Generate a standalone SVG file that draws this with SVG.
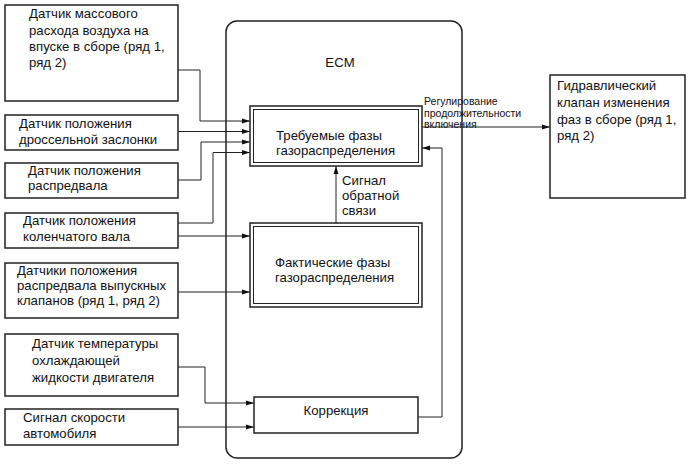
<svg xmlns="http://www.w3.org/2000/svg" width="689" height="464" viewBox="0 0 689 464">
<defs>
<marker id="ah" markerWidth="8" markerHeight="6" refX="8" refY="3" orient="auto" markerUnits="userSpaceOnUse">
<path d="M0,0.5 L8,3 L0,5.5 Z" fill="#111"/>
</marker>
<style>
text{font-family:"Liberation Sans",Arial,sans-serif;font-size:13.2px;fill:#111}
.box{fill:#fff;stroke:#222;stroke-width:1.5}
.inner{fill:none;stroke:#222;stroke-width:1}
.ln{fill:none;stroke:#222;stroke-width:1}
.arr{fill:none;stroke:#222;stroke-width:1;marker-end:url(#ah)}
.sm{font-size:10.5px}
.c{text-anchor:middle}
</style>
</defs>
<rect width="689" height="464" fill="#fff"/>
<g id="ecm">
<rect x="226" y="21" width="236" height="437" rx="11" ry="11" fill="none" stroke="#222" stroke-width="1.5"/>
<text x="340" y="67" class="c">ECM</text>
</g>
<g id="maf">
<rect class="box" x="5" y="5" width="173" height="96"/>
<text x="29" y="18">Датчик массового</text>
<text x="29" y="35">расхода воздуха на</text>
<text x="29" y="51">впуске в сборе (ряд 1,</text>
<text x="29" y="67">ряд 2)</text>
</g>
<g id="tps">
<rect class="box" x="5" y="115" width="173" height="35"/>
<text x="19" y="128">Датчик положения</text>
<text x="19" y="144">дроссельной заслонки</text>
</g>
<g id="cmp">
<rect class="box" x="5" y="163" width="173" height="35"/>
<text x="28" y="175">Датчик положения</text>
<text x="28" y="190">распредвала</text>
</g>
<g id="ckp">
<rect class="box" x="5" y="213" width="173" height="35"/>
<text x="23" y="225">Датчик положения</text>
<text x="23" y="241">коленчатого вала</text>
</g>
<g id="excmp">
<rect class="box" x="5" y="263" width="173" height="55"/>
<text x="17" y="275">Датчики положения</text>
<text x="17" y="290">распредвала выпускных</text>
<text x="17" y="305">клапанов (ряд 1, ряд 2)</text>
</g>
<g id="ect">
<rect class="box" x="5" y="334" width="173" height="62"/>
<text x="32" y="348">Датчик температуры</text>
<text x="32" y="365">охлаждающей</text>
<text x="32" y="382">жидкости двигателя</text>
</g>
<g id="vss">
<rect class="box" x="5" y="409" width="173" height="36"/>
<text x="23" y="422">Сигнал скорости</text>
<text x="23" y="438">автомобиля</text>
</g>
<g id="required">
<rect class="box" x="250" y="106" width="172" height="60"/>
<rect class="inner" x="253.5" y="109.5" width="165" height="53"/>
<text x="276" y="140">Требуемые фазы</text>
<text x="276" y="155">газораспределения</text>
</g>
<g id="actual">
<rect class="box" x="250" y="223" width="172" height="84"/>
<rect class="inner" x="253.5" y="226.5" width="165" height="77"/>
<text x="275" y="267">Фактические фазы</text>
<text x="275" y="282">газораспределения</text>
</g>
<g id="correction">
<rect class="box" x="254" y="397" width="164" height="36"/>
<text x="336" y="415" class="c">Коррекция</text>
</g>
<g id="valve">
<rect class="box" x="550" y="75" width="135" height="123"/>
<text x="557" y="90">Гидравлический</text>
<text x="557" y="107">клапан изменения</text>
<text x="557" y="124">фаз в сборе (ряд 1,</text>
<text x="557" y="140">ряд 2)</text>
</g>
<g id="connectors">
<path class="arr" d="M178,70 H200 V121 H250"/>
<path class="arr" d="M178,131.5 H250"/>
<path class="arr" d="M178,180 H201 V142 H250"/>
<path class="arr" d="M178,223 H213 V152.5 H250"/>
<path class="arr" d="M178,236 H250"/>
<path class="arr" d="M178,292 H250"/>
<path class="arr" d="M336,223 V166"/>
<path class="arr" d="M178,367 H205 V403 H254"/>
<path class="arr" d="M178,427 H254"/>
<path class="arr" d="M418,417 H442 V148 H422"/>
<path class="arr" d="M422,127 H550"/>
</g>
<g id="labels">
<text x="342" y="185">Сигнал</text>
<text x="342" y="200">обратной</text>
<text x="342" y="215">связи</text>
<text x="424" y="105" class="sm">Регулирование</text>
<text x="424" y="117" class="sm">продолжительности</text>
<text x="424" y="128" class="sm">включения</text>
</g>
</svg>
